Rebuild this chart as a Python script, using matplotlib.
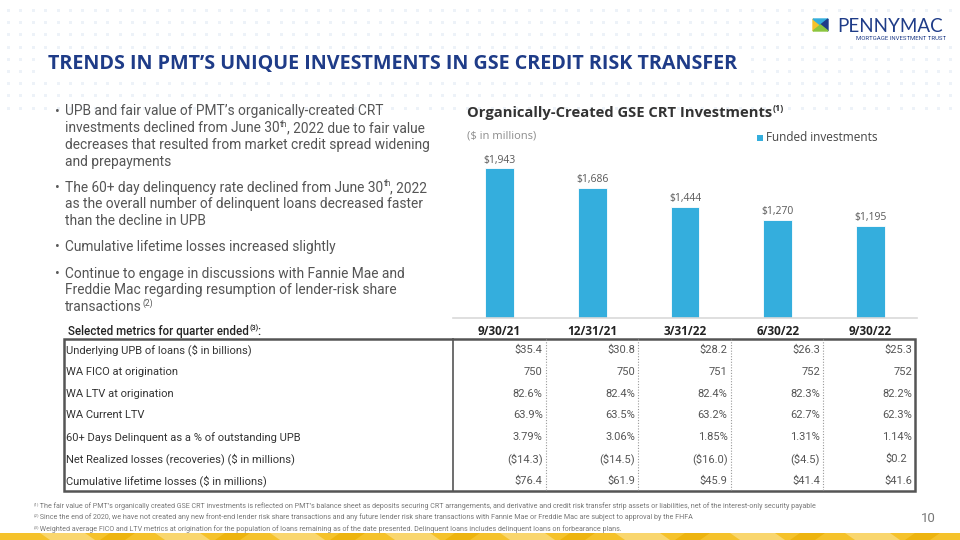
import re
import matplotlib
matplotlib.use("Agg")
import matplotlib.pyplot as plt
from matplotlib.patches import Rectangle, Polygon

# ---- data ----
quarters = ["9/30/21", "12/31/21", "3/31/22", "6/30/22", "9/30/22"]
funded = [1943, 1686, 1444, 1270, 1195]

metric_names = [
    "Underlying UPB of loans ($ in billions)",
    "WA FICO at origination",
    "WA LTV at origination",
    "WA Current LTV",
    "60+ Days Delinquent as a % of outstanding UPB",
    "Net Realized losses (recoveries) ($ in millions)",
    "Cumulative lifetime losses ($ in millions)",
]
upb = [35.4, 30.8, 28.2, 26.3, 25.3]
fico = [750, 750, 751, 752, 752]
ltv_orig = [82.6, 82.4, 82.4, 82.3, 82.2]
ltv_curr = [63.9, 63.5, 63.2, 62.7, 62.3]
delinq = [3.79, 3.06, 1.85, 1.31, 1.14]
net_losses = [-14.3, -14.5, -16.0, -4.5, 0.2]
cum_losses = [76.4, 61.9, 45.9, 41.4, 41.6]

bullets = [
    ["UPB and fair value of PMT\u2019s organically-created CRT",
     "investments declined from June 30^{th}, 2022 due to fair value",
     "decreases that resulted from market credit spread widening",
     "and prepayments"],
    ["The 60+ day delinquency rate declined from June 30^{th}, 2022",
     "as the overall number of delinquent loans decreased faster",
     "than the decline in UPB"],
    ["Cumulative lifetime losses increased slightly"],
    ["Continue to engage in discussions with Fannie Mae and",
     "Freddie Mac regarding resumption of lender-risk share",
     "transactions^{(2)}"],
]

footnotes = [
    "^{(1)} The fair value of PMT\u2019s organically created GSE CRT investments is reflected on PMT\u2019s balance sheet as deposits securing CRT arrangements, and derivative and credit risk transfer strip assets or liabilities, net of the interest-only security payable",
    "^{(2)} Since the end of 2020, we have not created any new front-end lender risk share transactions and any future lender risk share transactions with Fannie Mae or Freddie Mac are subject to approval by the FHFA",
    "^{(3)} Weighted average FICO and LTV metrics at origination for the population of loans remaining as of the date presented. Delinquent loans includes delinquent loans on forbearance plans.",
]

NAVY = "#1F3C88"
BAR = "#34AEDD"
BODY = ["Roboto", "DejaVu Sans"]
HEAD = ["Open Sans", "DejaVu Sans"]

fig = plt.figure(figsize=(9.6, 5.4), dpi=100)
bg = fig.add_axes([0, 0, 1, 1])
bg.set_xlim(0, 960)
bg.set_ylim(540, 0)
bg.axis("off")
renderer = fig.canvas.get_renderer()


def rich(x, y, s, size, color, weight="normal", family=BODY, zorder=3):
    # draw text with ^{..} superscripts, in pixel coordinates
    parts = re.split(r"\^\{(.*?)\}", s)
    cx = x
    for i, p in enumerate(parts):
        if not p:
            continue
        sup = i % 2 == 1
        fs = size * 0.62 if sup else size
        yy = y - size * 0.42 if sup else y
        t = bg.text(cx, yy, p, fontsize=fs, color=color, fontweight=weight,
                    family=family, va="center", ha="left", zorder=zorder)
        cx += t.get_window_extent(renderer).width + (0.6 if not sup else -1.2)
    return cx


# background dot pattern
for ry in range(9):
    for cx in range(78):
        bg.add_patch(Rectangle((7 + cx * 12.4, 9 + ry * 12.2), 3, 3,
                               color="#EDF2F8", lw=0, zorder=0))

# title
bg.add_patch(Rectangle((44, 52), 700, 22, color="white", lw=0, zorder=1))
bg.text(48, 63.5, "TRENDS IN PMT\u2019S UNIQUE INVESTMENTS IN GSE CREDIT RISK TRANSFER",
        fontsize=14.2, fontweight="bold", color=NAVY, family=HEAD, va="center", zorder=2)

# logo
bg.add_patch(Rectangle((808, 14), 148, 30, color="white", lw=0, zorder=1))
bg.add_patch(Polygon([(813, 19), (813, 31), (820.5, 25)], color="#F5C22B", zorder=2))
bg.add_patch(Polygon([(813, 19), (828, 19), (820.5, 25)], color="#34AEDD", zorder=2))
bg.add_patch(Polygon([(828, 19), (828, 31), (820.5, 25)], color=NAVY, zorder=2))
bg.add_patch(Polygon([(813, 31), (828, 31), (820.5, 25)], color="#8CC63F", zorder=2))
bg.text(837, 26, "PENNYMAC", fontsize=13.5, color=NAVY, family=["Lato", "DejaVu Sans"],
        va="center", zorder=2)
bg.text(946, 38.5, "MORTGAGE INVESTMENT TRUST", fontsize=4.3, color=NAVY,
        family=BODY, va="center", ha="right", zorder=2)

# bullets
by = 111.5
for lines in bullets:
    bg.text(55, by, "\u2022", fontsize=10, color="#595959", family=BODY, va="center")
    for ln in lines:
        rich(65, by, ln, 9.95, "#555555")
        by += 16.7
    by += 9.5

# chart title / subtitle / legend
rich(467, 113, "Organically-Created GSE CRT Investments^{(1)}", 10.6, "#333333",
     weight="bold", family=HEAD)
bg.text(467, 136.5, "($ in millions)", fontsize=8, color="#8C8C8C", family=HEAD, va="center")
bg.add_patch(Rectangle((757, 134.5), 6, 6, color=BAR, lw=0))
bg.text(766, 137.5, "Funded investments", fontsize=8.5, color="#444444", family=HEAD, va="center")

# bar chart
ax = fig.add_axes([453 / 960, 1 - 317.7 / 540, 464 / 960, (317.7 - 140) / 540])
x = range(len(quarters))
ax.bar(x, funded, width=0.31, color=BAR, edgecolor="white", linewidth=0.6)
ax.set_xlim(-0.5, 4.5)
ax.set_ylim(0, 2311)
for i, v in enumerate(funded):
    ax.annotate(f"${v:,}", (i, v), xytext=(0, 2), textcoords="offset points",
                ha="center", va="bottom", fontsize=7.5, color="#595959", family=HEAD)
ax.set_xticks(list(x))
ax.set_xticklabels(quarters, fontsize=8.5, fontweight="bold", color="#222222", family=HEAD)
ax.tick_params(axis="x", length=0, pad=5)
ax.set_yticks([])
for s in ["top", "left", "right"]:
    ax.spines[s].set_visible(False)
ax.spines["bottom"].set_color("#D9D9D9")
ax.spines["bottom"].set_linewidth(1.2)
ax.patch.set_alpha(0)

# table
t_left, t_top, t_bot = 64, 339, 491
col_edges = [453.3 + 92.4 * k for k in range(6)]
row_h = (t_bot - t_top) / len(metric_names)
rich(68, 331.5, "Selected metrics for quarter ended^{(3)}:", 8.3, "#222222", weight="medium")

bg.add_patch(Rectangle((t_left, t_top), col_edges[-1] - t_left, t_bot - t_top,
                       fill=False, ec="#555555", lw=1.8, zorder=4))
bg.plot([col_edges[0]] * 2, [t_top, t_bot], color="#555555", lw=1.2, zorder=4)
for ex in col_edges[1:-1]:
    bg.plot([ex, ex], [t_top, t_bot], color="#999999", lw=0.8, ls=(0, (1, 1.5)), zorder=4)


def money(v):
    return f"(${abs(v):.1f})" if v < 0 else f"${v:.1f}"


rows = [
    [f"${v:.1f}" for v in upb],
    [f"{v}" for v in fico],
    [f"{v:.1f}%" for v in ltv_orig],
    [f"{v:.1f}%" for v in ltv_curr],
    [f"{v:.2f}%" for v in delinq],
    [money(v) for v in net_losses],
    [f"${v:.1f}" for v in cum_losses],
]
for r, (name, vals) in enumerate(zip(metric_names, rows)):
    yc = t_top + row_h * (r + 0.5) + 0.5
    bg.text(66, yc, name, fontsize=8, color="#333333", family=BODY, va="center")
    for c, val in enumerate(vals):
        pad = 8 if (r == 5 and not val.startswith("(")) else 3
        bg.text(col_edges[c + 1] - pad, yc, val, fontsize=8, color="#555555",
                family=BODY, va="center", ha="right")

# footnotes
for k, fn in enumerate(footnotes):
    rich(34, 506 + k * 11.5, fn, 5.15, "#777777")
bg.text(928, 519, "10", fontsize=9.5, color="#777777", family=BODY, va="center", ha="center")

# bottom yellow band
bg.add_patch(Rectangle((0, 533), 960, 7, color="#F5C22B", lw=0, zorder=1))
for k in range(9):
    x0 = k * 115 + 40
    bg.add_patch(Polygon([(x0, 533), (x0 + 45, 533), (x0 + 55, 540), (x0 + 10, 540)],
                         color="#F9D66E", lw=0, zorder=2))
    bg.add_patch(Polygon([(x0 + 70, 533), (x0 + 95, 533), (x0 + 85, 540), (x0 + 60, 540)],
                         color="#EDB40F", lw=0, zorder=2))

fig.savefig("out.png", dpi=100)
